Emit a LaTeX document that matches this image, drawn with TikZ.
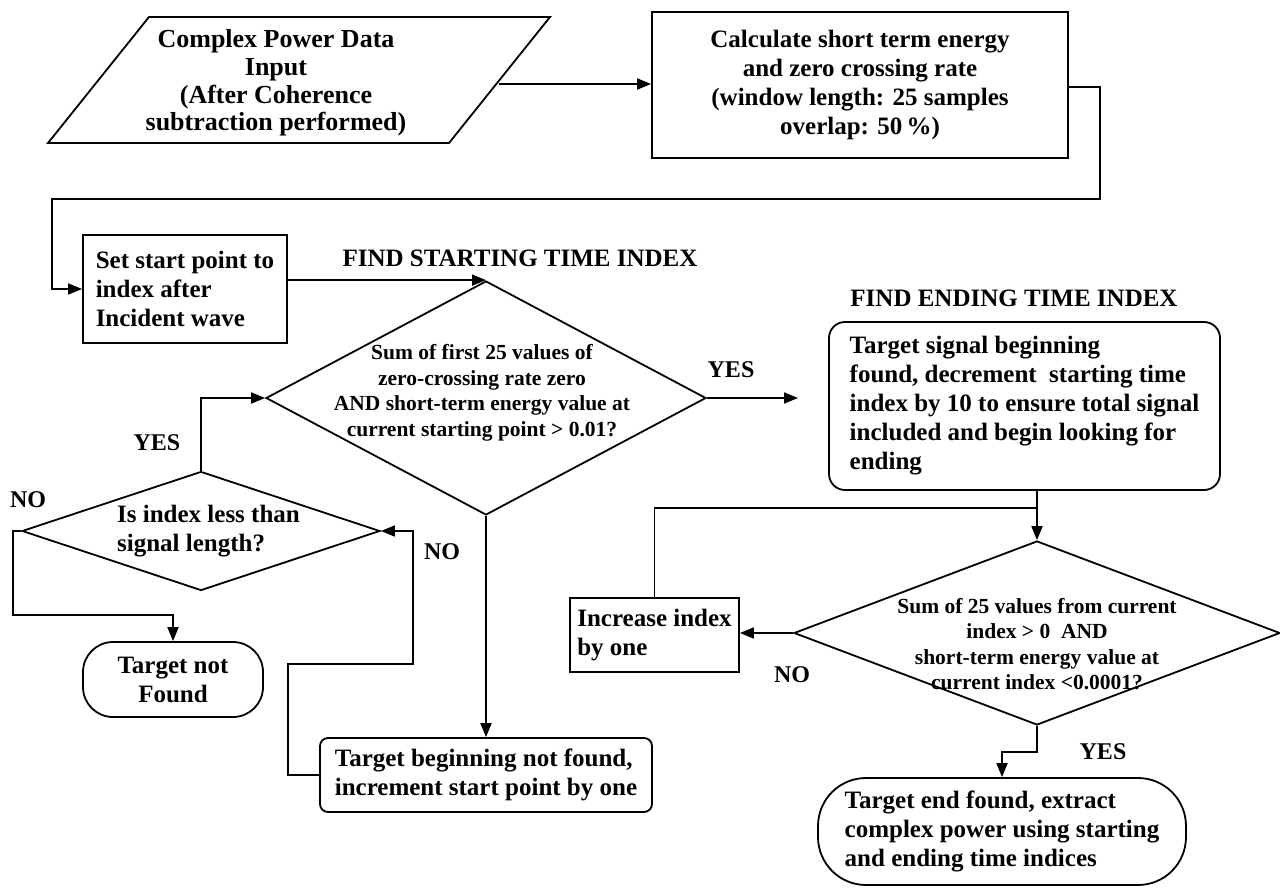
\documentclass[tikz,border=0pt]{standalone}
\usepackage{fontspec}
\setmainfont{Liberation Serif}
\usetikzlibrary{arrows.meta,shapes.geometric,calc}
\begin{document}
\begin{tikzpicture}[x=1pt,y=-1pt,
  line width=1.8pt,
  arr/.style={-{Triangle[length=14pt,width=11pt]}},
  txt/.style={font=\fontsize{25}{29}\selectfont\bfseries, inner sep=0pt},
  dtxt/.style={font=\fontsize{21.5}{25.5}\selectfont\bfseries, align=center, inner sep=0pt},
  lbl/.style={font=\fontsize{24}{28}\selectfont\bfseries, inner sep=0pt},
  box/.style={draw, txt},
  dia/.style={draw, diamond, inner sep=0pt}
]
\useasboundingbox (0,0) rectangle (1280,888);

% input parallelogram
\draw (149,17) -- (550,17) -- (449,143) -- (48,143) -- cycle;
\node[txt, align=center, font=\fontsize{26}{27.7}\selectfont\bfseries] (inp) at (276,83) {Complex Power Data\\Input\\(After Coherence\\subtraction performed)};
\coordinate (pr) at (499,84);

% calculate box
\node[box, minimum width=416pt, minimum height=146pt, align=center] (calc) at (860,85) {Calculate short term energy\\and zero crossing rate\\(window length: 25 samples\\overlap: 50\,\%)};
\draw[arr] (pr) -- (pr -| calc.west);

% set start point
\node[box, minimum width=204pt, minimum height=108pt, align=left] (setp) at (185,289) {Set start point to\\index after\\Incident wave};
\coordinate (r1) at (1100,87);
\coordinate (r2) at (1100,199);
\coordinate (r3) at (52,199);
\draw[arr] (calc.east |- r1) -- (r1) -- (r2) -- (r3) |- (setp.west);

% decision 1
\node[txt] (fst) at (520,258) {FIND STARTING TIME INDEX};
\node[dia, minimum width=440pt, minimum height=234pt] (d1) at (486,398) {};
\node[dtxt] (d1t) at (482,393) {Sum of first 25 values of\\zero-crossing rate zero\\AND short-term energy value at\\current starting point > 0.01?};
\draw[arr] (setp.east |- d1.north) -- (d1.north);

\coordinate (yesend) at (798,398);
\draw[arr] (d1.east) -- (yesend);
\node[lbl] (yes1) at (731,370) {YES};

% ending part
\node[txt] (fet) at (1014,298) {FIND ENDING TIME INDEX};
\node[box, rounded corners=16pt, minimum width=391pt, minimum height=168pt, align=left] (rb) at (1024.5,406) {Target signal beginning\\found, decrement~ starting time\\index by 10 to ensure total signal\\included and begin looking for\\ending};

\node[dia, minimum width=486pt, minimum height=184pt] (d2) at (1037,633) {};
\node[dtxt] (d2t) at (1037,644) {Sum of 25 values from current\\index > 0~ AND\\short-term energy value at\\current index <0.0001?};

\coordinate (j) at (1037,508);
\draw[arr] (rb.south -| d2.north) -- (d2.north);

\node[box, minimum width=169pt, minimum height=74pt, align=left] (inc) at (654.5,635) {Increase index\\by one};
\draw (inc.north) |- (j);
\draw[arr] (d2.west) -- (d2.west -| inc.east);
\node[lbl] (no2) at (792,675) {NO};

\node[box, rounded corners=48pt, minimum width=368pt, minimum height=107pt, align=left] (fin) at (1002,831.5) {Target end found, extract\\complex power using starting\\and ending time indices};
\coordinate (s1) at (1037,752);
\draw[arr] (d2.south) -- (s1) -| (fin.north);
\node[lbl] (yes2) at (1103,752) {YES};

% left loop
\node[dia, minimum width=358pt, minimum height=119pt] (d3) at (201,531) {};
\node[txt, align=left] (d3t) at (208.5,531) {Is index less than\\signal length?};
\draw[arr] (d3.north) |- (d1.west);
\node[lbl] (yes3) at (157,443) {YES};
\node[lbl] (no3) at (28,500) {NO};

\node[box, rounded corners=30pt, minimum width=180pt, minimum height=75pt, align=center] (tnf) at (173,679.5) {Target not\\Found};
\coordinate (c1) at (13,615);
\draw[arr] (d3.west) -| (c1) -| (tnf.north);

\node[box, rounded corners=8pt, minimum width=332pt, minimum height=74pt, align=left] (tbnf) at (486,775) {Target beginning not found,\\increment start point by one};
\draw[arr] (d1.south) -- (tbnf.north);
\coordinate (c2) at (288,664);
\coordinate (c3) at (413,664);
\draw[arr] (tbnf.west) -| (c2) -- (c3) |- (d3.east);
\node[lbl] (no1) at (442,552) {NO};
\end{tikzpicture}
\end{document}
